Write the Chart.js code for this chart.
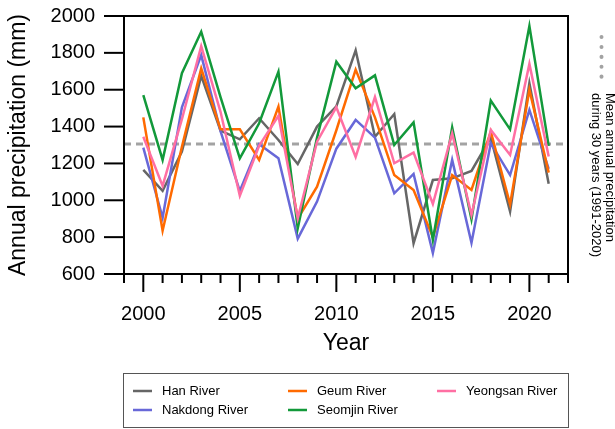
<!DOCTYPE html>
<html>
<head>
<meta charset="utf-8">
<script src="https://cdn.jsdelivr.net/npm/chart.js@4"></script>
<style>
  html, body { margin: 0; padding: 0; background: #fff; }
  #wrap { width: 615px; height: 429px; }
</style>
</head>
<body>
<div id="wrap"><canvas id="precipChart" width="615" height="429"></canvas></div>
<script>
const years = [2000, 2001, 2002, 2003, 2004, 2005, 2006, 2007, 2008, 2009, 2010,
               2011, 2012, 2013, 2014, 2015, 2016, 2017, 2018, 2019, 2020, 2021]

const hanRiver      = [1165, 1051, 1265, 1675, 1378, 1331, 1445, 1327, 1197, 1400, 1510,
                       1814, 1345, 1468, 767, 1110, 1119, 1159, 1340, 939, 1635, 1090]
const nakdongRiver  = [1286, 905, 1505, 1788, 1375, 1050, 1304, 1228, 792, 993, 1280,
                       1436, 1340, 1038, 1143, 714, 1219, 770, 1309, 1137, 1490, 1170]
const geumRiver     = [1450, 835, 1290, 1716, 1385, 1385, 1219, 1508, 900, 1074, 1380,
                       1709, 1450, 1137, 1056, 800, 1137, 1056, 1373, 978, 1600, 1150]
const seomjinRiver  = [1571, 1219, 1690, 1915, 1560, 1228, 1418, 1698, 848, 1340, 1752,
                       1608, 1678, 1300, 1423, 785, 1396, 897, 1541, 1385, 1946, 1295]
const yeongsanRiver = [1345, 1078, 1440, 1837, 1480, 1025, 1295, 1458, 902, 1318, 1505,
                       1235, 1560, 1201, 1259, 980, 1363, 920, 1382, 1246, 1740, 1237]

const meanPrecip = 1306
const meanSpan = [1999, 2022]

const yTickLabels = [600, 800, 1000, 1200, 1400, 1600, 1800, 2000]
const xTickLabels = [2000, 2005, 2010, 2015, 2020]

const FONT = "'Liberation Sans', Arial, Helvetica, sans-serif"

const toPoints = (vals) => years.map((yr, i) => ({ x: yr, y: vals[i] }))

function river(label, vals, color, order) {
  return {
    label: label,
    data: toPoints(vals),
    borderColor: color,
    backgroundColor: color,
    borderWidth: 2.5,
    pointRadius: 0,
    tension: 0,
    fill: false,
    order: order
  }
}

// order of the legend (column-wise, 3 columns)
const legendRows = [
  ["Han River", "Geum River", "Yeongsan River"],
  ["Nakdong River", "Seomjin River"]
]

const framePlugin = {
  id: "frame",
  afterDatasetsDraw(chart) {
    const { ctx, chartArea: a, scales } = chart
    ctx.save()
    ctx.strokeStyle = "#000"
    ctx.lineWidth = 2
    ctx.strokeRect(a.left, a.top, a.right - a.left, a.bottom - a.top)

    // y ticks: long on labelled values
    scales.y.ticks.forEach(t => {
      const py = scales.y.getPixelForValue(t.value)
      const len = yTickLabels.includes(t.value) ? 20 : 10
      ctx.beginPath()
      ctx.moveTo(a.left - len, py)
      ctx.lineTo(a.left, py)
      ctx.stroke()
    })
    // x ticks
    scales.x.ticks.forEach(t => {
      const px = scales.x.getPixelForValue(t.value)
      const len = xTickLabels.includes(t.value) ? 18 : 9
      ctx.beginPath()
      ctx.moveTo(px, a.bottom)
      ctx.lineTo(px, a.bottom + len)
      ctx.stroke()
    })
    ctx.restore()
  },
  afterDraw(chart) {
    const { ctx, chartArea: a } = chart
    ctx.save()

    // legend box under the plot
    const boxTop = 373, boxBottom = 427
    ctx.strokeStyle = "#555"
    ctx.lineWidth = 1
    ctx.strokeRect(a.left - 0.5, boxTop + 0.5, a.right - a.left + 1, boxBottom - boxTop)

    const colX = [a.left + 9, a.left + 164, a.left + 313]
    const rowY = [391, 410]
    ctx.font = "13px " + FONT
    ctx.textBaseline = "middle"
    ctx.textAlign = "left"
    legendRows.forEach((row, r) => {
      row.forEach((label, c) => {
        const ds = chart.data.datasets.find(d => d.label === label)
        ctx.strokeStyle = ds.borderColor
        ctx.lineWidth = 2.5
        ctx.beginPath()
        ctx.moveTo(colX[c], rowY[r])
        ctx.lineTo(colX[c] + 19, rowY[r])
        ctx.stroke()
        ctx.fillStyle = "#000"
        ctx.fillText(label, colX[c] + 29, rowY[r] + 0.5)
      })
    })

    // mean line note on the right
    ctx.strokeStyle = "#a3a3a3"
    ctx.lineWidth = 4
    ctx.lineCap = "round"
    ctx.setLineDash([0.1, 9.8])
    ctx.beginPath()
    ctx.moveTo(601.5, 37)
    ctx.lineTo(601.5, 77)
    ctx.stroke()
    ctx.setLineDash([])

    ctx.fillStyle = "#000"
    ctx.font = "13px " + FONT
    ctx.translate(610, 93)
    ctx.rotate(Math.PI / 2)
    ctx.textBaseline = "middle"
    ctx.fillText("Mean annual precipitation", 0, 0)
    ctx.fillText("during 30 years (1991-2020)", 0, 14.5)
    ctx.restore()
  }
}

new Chart(document.getElementById("precipChart"), {
  type: "line",
  data: {
    datasets: [
      river("Han River", hanRiver, "#666666", 5),
      river("Nakdong River", nakdongRiver, "#6868d8", 4),
      river("Geum River", geumRiver, "#ff6a00", 3),
      river("Seomjin River", seomjinRiver, "#12993a", 2),
      river("Yeongsan River", yeongsanRiver, "#ff6fa3", 1),
      {
        label: "Mean",
        data: meanSpan.map(x => ({ x: x, y: meanPrecip })),
        borderColor: "#a3a3a3",
        borderWidth: 3,
        borderDash: [7, 5],
        pointRadius: 0,
        fill: false,
        order: 10
      }
    ]
  },
  options: {
    responsive: false,
    animation: false,
    layout: { padding: { top: 16, right: 47, bottom: 69, left: 0 } },
    plugins: {
      legend: { display: false },
      tooltip: { enabled: false }
    },
    scales: {
      x: {
        type: "linear",
        min: 1999,
        max: 2022,
        grid: { display: false, drawTicks: false },
        border: { display: false },
        ticks: {
          stepSize: 1,
          autoSkip: false,
          maxRotation: 0,
          padding: 28,
          color: "#000",
          font: { family: FONT, size: 20 },
          callback: (v) => xTickLabels.includes(v) ? String(v) : ""
        },
        title: {
          display: true,
          text: "Year",
          color: "#000",
          font: { family: FONT, size: 23 },
          padding: { top: 0, bottom: 3 }
        },
        afterFit: (s) => {
          s.height = 86
          s.paddingLeft = 0
          s.paddingRight = 0
        }
      },
      y: {
        min: 600,
        max: 2000,
        grid: { display: false, drawTicks: false },
        border: { display: false },
        ticks: {
          stepSize: 100,
          padding: 29,
          color: "#000",
          font: { family: FONT, size: 20 },
          callback: (v) => yTickLabels.includes(v) ? String(v) : ""
        },
        title: {
          display: true,
          text: "Annual precipitation (mm)",
          color: "#000",
          font: { family: FONT, size: 23 },
          padding: { top: 5, bottom: 0 }
        },
        afterFit: (s) => {
          s.width = 124
          s.paddingTop = 0
          s.paddingBottom = 0
        }
      }
    }
  },
  plugins: [framePlugin]
})
</script>
</body>
</html>
